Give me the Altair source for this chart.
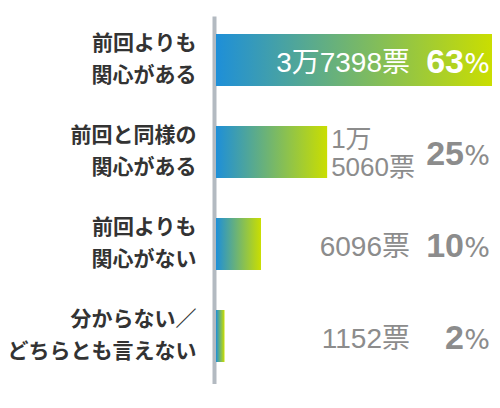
import altair as alt
import pandas as pd

categories = [
    "前回よりも\n関心がある",
    "前回と同様の\n関心がある",
    "前回よりも\n関心がない",
    "分からない／\nどちらとも言えない",
]
votes = [37398, 15060, 6096, 1152]
vote_labels = ["3万7398票", "1万5060票", "6096票", "1152票"]
percents = [63, 25, 10, 2]

# layout (plot area pixels)
PLOT_W = 276
PLOT_H = 368
VOTE_COL = 194     # right edge of the vote column
PCT_COL = 248      # right edge of the percent digits
SIGN_COL = 274     # right edge of the % sign
VOTE_SIZE = 28
GRAY = "#8c8c8c"
NUM_FONT = "Liberation Sans, Noto Sans CJK JP"
JP_FONT = "Noto Sans CJK JP"


def text_width(s, size):
    return sum(0.56 * size if ch.isascii() else size for ch in s)


df = pd.DataFrame({
    "category": categories,
    "votes": votes,
    "label": vote_labels,
    "percent": percents,
})

# where each vote label goes: inside the bar, right column, or wrapped next to the bar
max_votes = max(votes)
places, texts = [], []
for v, lab in zip(votes, vote_labels):
    bar_px = v / max_votes * PLOT_W
    if bar_px > VOTE_COL:
        places.append("inside")
        texts.append(lab)
    elif bar_px + 6 > VOTE_COL - text_width(lab, VOTE_SIZE):
        places.append("wrap")
        texts.append(lab.replace("万", "万\n"))
    else:
        places.append("right")
        texts.append(lab)
df["place"] = places
df["text"] = texts

on_bar = alt.condition("datum.place == 'inside'", alt.value("white"), alt.value(GRAY))

base = alt.Chart(df).encode(
    y=alt.Y(
        "category:N",
        sort=categories,
        title=None,
        scale=alt.Scale(paddingInner=40 / 92, paddingOuter=20 / 92),
        axis=alt.Axis(
            domainColor="#b3bac1",
            domainWidth=4,
            ticks=False,
            tickSize=0,
            offset=2,
            labelPadding=18,
            labelOffset=-18,
            labelFont=JP_FONT,
            labelFontSize=21,
            labelFontWeight="bold",
            labelColor="#333333",
            labelLineHeight=32,
            labelLimit=400,
            labelExpr="split(datum.label, '\\n')",
        ),
    )
)

gradient = alt.Gradient(
    gradient="linear",
    stops=[
        alt.GradientStop(color="#1e8fd8", offset=0),
        alt.GradientStop(color="#cade00", offset=1),
    ],
    x1=0, x2=1, y1=0, y2=0,
)

bars = base.mark_bar(color=gradient, yOffset=-2).encode(
    x=alt.X("votes:Q", scale=alt.Scale(domain=[0, max_votes], nice=False), axis=None)
)

vote_right = base.transform_filter("datum.place != 'wrap'").mark_text(
    align="right", baseline="alphabetic", font=NUM_FONT, fontSize=VOTE_SIZE,
    yOffset=-2, dy=12
).encode(x=alt.value(VOTE_COL), text="text:N", color=on_bar)

vote_wrap = base.transform_filter("datum.place == 'wrap'").mark_text(
    align="left", baseline="alphabetic", font=NUM_FONT, fontSize=26,
    lineBreak="\n", lineHeight=28, dx=4, dy=-4, yOffset=-2
).encode(x=alt.X("votes:Q"), text="text:N", color=alt.value(GRAY))

pct_num = base.mark_text(
    align="right", baseline="alphabetic", font=NUM_FONT, fontSize=34,
    fontWeight="bold", yOffset=-2, dy=12.5
).encode(x=alt.value(PCT_COL), text="percent:Q", color=on_bar)

pct_sign = base.mark_text(
    align="right", baseline="alphabetic", font="DejaVu Sans", fontSize=27, text="%",
    yOffset=-2, dy=12.5
).encode(x=alt.value(SIGN_COL), color=on_bar)

chart = alt.layer(bars, vote_right, vote_wrap, pct_num, pct_sign).properties(
    width=PLOT_W,
    height=PLOT_H,
    autosize=alt.AutoSizeParams(type="none"),
    padding={"left": 208, "top": 8, "right": 0, "bottom": 0},
    background="white",
).configure_view(strokeWidth=0)

chart.save("out.html", embed_options={"renderer": "svg", "actions": False})
